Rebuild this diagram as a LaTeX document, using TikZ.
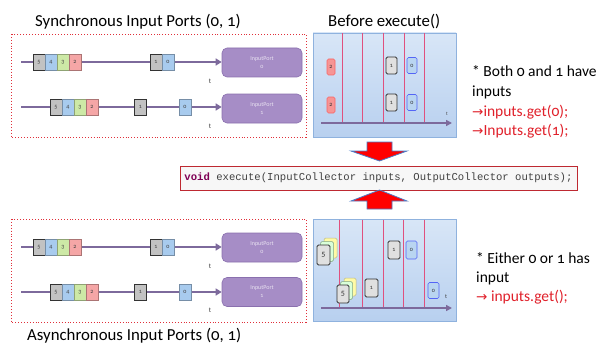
\documentclass[tikz,border=0pt]{standalone}
\usepackage{fontspec}
\setmainfont{Carlito}[Numbers=OldStyle]
\newfontfamily\arrowfont{DejaVu Sans}
\setmonofont{Liberation Mono}
\usetikzlibrary{arrows.meta}
\definecolor{portfill}{HTML}{A68DC6}
\definecolor{portdraw}{HTML}{8A70AE}
\definecolor{linecol}{HTML}{7D6A9C}
\definecolor{dotred}{HTML}{E0303A}
\definecolor{panelA}{HTML}{D8E6F7}
\definecolor{panelB}{HTML}{B8D0EF}
\definecolor{paneldraw}{HTML}{8FB2DE}
\definecolor{vred}{HTML}{E0507E}
\definecolor{cgray}{HTML}{C2C2C2}
\definecolor{cblue}{HTML}{A8CBEE}
\definecolor{cgreen}{HTML}{CDE9A6}
\definecolor{cred}{HTML}{F5A6A6}
\definecolor{txtred}{HTML}{E0202A}
\definecolor{kw}{HTML}{7F0055}
\definecolor{arrred}{HTML}{FF0000}
\definecolor{arrblue}{HTML}{4A7CC8}
\tikzset{
  cell/.style={minimum width=12pt, minimum height=16pt, inner sep=0pt,
    font=\fontsize{6}{6}\selectfont, text=black!75},
  gcell/.style={cell, fill=cgray, draw=black!80, line width=0.6pt},
  bcell/.style={cell, fill=cblue, draw=cblue!70!black, line width=0.4pt},
  grcell/.style={cell, fill=cgreen, draw=cgreen!70!black, line width=0.4pt},
  rcell/.style={cell, fill=cred, draw=cred!70!black, line width=0.4pt},
  port/.style={rounded corners=5pt, fill=portfill, draw=portdraw, line width=0.6pt,
    minimum width=80pt, minimum height=29pt, align=center,
    font=\fontsize{6}{8}\selectfont, text=white!75!portfill},
  tline/.style={draw=linecol, line width=1.3pt, -{Triangle[length=6pt,width=7pt]}},
  tlab/.style={font=\fontsize{7}{7}\selectfont, text=black!75, inner sep=0pt},
  dotbox/.style={draw=dotred, dotted, line width=0.9pt},
  panel/.style={top color=panelA, bottom color=panelB, draw=paneldraw, line width=0.8pt},
  vline/.style={draw=vred, line width=1pt},
  axis/.style={draw=linecol, line width=1.5pt, -{Triangle[length=6pt,width=6pt]}},
  card/.style={rounded corners=1.5pt, inner sep=0pt, font=\fontsize{6}{6}\selectfont, text=black!80},
  dcard/.style={card, fill=black!12, draw=black!80, line width=0.9pt},
  rcard/.style={card, fill=cred!90!red, draw=cred!60!red, line width=0.6pt},
  bcard/.style={card, fill=cblue!80, draw=cblue!50!blue, line width=0.6pt},
  ycard/.style={card, fill=yellow!35, draw=yellow!50!black!60, line width=0.5pt},
  gcard/.style={card, fill=green!15, draw=green!30!black!50, line width=0.5pt},
  ttl/.style={font=\fontsize{16.8}{18}\selectfont, inner sep=0pt, anchor=base west},
  rtxt/.style={font=\fontsize{15.5}{17}\selectfont, inner sep=0pt, anchor=base west},
  bigarrow/.style={fill=arrred, draw=arrblue, line width=0.8pt, line join=miter}
}
\begin{document}
\begin{tikzpicture}[x=1pt,y=-1pt]
\useasboundingbox (0,0) rectangle (613,345);
% ---------- titles ----------
\node[ttl] (tsync) at (35,27) {Synchronous Input Ports (0, 1)};
\node[ttl] (tbefore) at (328,27) {Before execute()};
\node[ttl] (tasync) at (27,340) {Asynchronous Input Ports (0, 1)};
% ---------- top dotted box ----------
\draw[dotbox] (11,34) rectangle (306,137);
\node[port] (p0) at (262,62.5) {InputPort\\0};
\node[port] (p1) at (262,108.5) {InputPort\\1};
\coordinate (s0) at (21,62);
\coordinate (s1) at (21,107);
\draw[tline] (s0) -- (p0.west |- s0);
\draw[tline] (s1) -- (p1.west |- s1);
\node[gcell] (a5) at (39,62) {5};
\node[bcell] (a4) at (51,62) {4};
\node[grcell] (a3) at (63,62) {3};
\node[rcell] (a2) at (75,62) {2};
\node[gcell] (a1) at (156,62) {1};
\node[bcell] (a0) at (168,62) {0};
\node[gcell] (b5) at (56,107) {5};
\node[bcell] (b4) at (68,107) {4};
\node[grcell] (b3) at (80,107) {3};
\node[rcell] (b2) at (92,107) {2};
\node[gcell] (b1) at (140.5,107) {1};
\node[bcell] (b0) at (185,107) {0};
\node[tlab] (ta) at (210,81) {t};
\node[tlab] (tb) at (210,126) {t};
% ---------- bottom dotted box ----------
\draw[dotbox] (11,219) rectangle (306,322);
\node[port] (q0) at (262,247.5) {InputPort\\0};
\node[port] (q1) at (262,292) {InputPort\\1};
\coordinate (u0) at (21,247);
\coordinate (u1) at (21,292);
\draw[tline] (u0) -- (q0.west |- u0);
\draw[tline] (u1) -- (q1.west |- u1);
\node[gcell] (c5) at (39,247) {5};
\node[bcell] (c4) at (51,247) {4};
\node[grcell] (c3) at (63,247) {3};
\node[rcell] (c2) at (75,247) {2};
\node[gcell] (c1) at (156,247) {1};
\node[bcell] (c0) at (168,247) {0};
\node[gcell] (d5) at (56,292) {5};
\node[bcell] (d4) at (68,292) {4};
\node[grcell] (d3) at (80,292) {3};
\node[rcell] (d2) at (92,292) {2};
\node[gcell] (d1) at (140.5,292) {1};
\node[bcell] (d0) at (185,292) {0};
\node[tlab] (tc) at (210,266) {t};
\node[tlab] (td) at (210,310) {t};
% ---------- top panel ----------
\draw[panel] (313,33) rectangle (456,137);
\foreach \x in {342,362,383,404,424} \draw[vline] (\x,33.5) -- (\x,122);
\draw[axis] (321,123) -- (452,123);
\node[tlab,font=\fontsize{5}{5}\selectfont] (tp1) at (447,114) {t};
\node[rcard, minimum width=8pt, minimum height=16pt] (e2a) at (331,67) {2};
\node[rcard, minimum width=8pt, minimum height=16pt] (e2b) at (331,105) {2};
\node[dcard, minimum width=11pt, minimum height=17pt] (e1a) at (391.5,65.5) {1};
\node[dcard, minimum width=11pt, minimum height=17pt] (e1b) at (391.5,102.5) {1};
\node[bcard, minimum width=10pt, minimum height=16pt] (e0a) at (412,65.5) {0};
\node[bcard, minimum width=10pt, minimum height=16pt] (e0b) at (412,102.5) {0};
% ---------- bottom panel ----------
\draw[panel] (313,219) rectangle (456,321);
\foreach \x in {339,362,383,403,424} \draw[vline] (\x,219.5) -- (\x,307);
\draw[axis] (321,308) -- (452,308);
\node[tlab,font=\fontsize{6}{6}\selectfont] (tp2) at (446,297) {t};
\node[ycard, minimum width=13pt, minimum height=20pt] (f5y) at (330.5,248) {};
\node[gcard, minimum width=13pt, minimum height=20pt] (f5g) at (327,251.5) {};
\node[dcard, minimum width=13pt, minimum height=20pt, font=\fontsize{8}{8}\selectfont] (f5) at (323.5,255) {5};
\node[ycard, minimum width=12pt, minimum height=18pt] (g5y) at (350,287) {};
\node[gcard, minimum width=12pt, minimum height=18pt] (g5g) at (346.5,290.5) {};
\node[dcard, minimum width=12pt, minimum height=18pt, font=\fontsize{8}{8}\selectfont] (g5) at (343,294) {5};
\node[dcard, minimum width=13pt, minimum height=18pt] (h1) at (371.5,288) {1};
\node[dcard, minimum width=12pt, minimum height=18pt] (h1b) at (394,250) {1};
\node[bcard, minimum width=11pt, minimum height=18pt] (h0) at (411.5,250) {0};
\node[bcard, minimum width=11pt, minimum height=16pt] (h0b) at (433.5,290.5) {0};
% ---------- right texts ----------
\node[rtxt] (r1) at (472,77) {* Both 0 and 1 have};
\node[rtxt] (r2) at (472,96.5) {inputs};
\node[rtxt,text=txtred] (r3) at (472,116) {{\arrowfont\fontsize{13.5}{15}\selectfont →}inputs.get(0);};
\node[rtxt,text=txtred] (r4) at (472,135) {{\arrowfont\fontsize{13.5}{15}\selectfont →}Inputs.get(1);};
\node[rtxt] (r5) at (476,263) {* Either 0 or 1 has};
\node[rtxt] (r6) at (476,282) {input};
\node[rtxt,text=txtred] (r7) at (476,301) {{\arrowfont\fontsize{13.5}{15}\selectfont →} inputs.get();};
% ---------- code box ----------
\node[draw=dotred!85!black, line width=0.8pt, fill=black!3, minimum width=397pt, minimum height=24pt,
      inner sep=0pt, font=\ttfamily\fontsize{10.6}{12}\selectfont, text=black!75]
  (code) at (378.5,178) {\textcolor{kw}{\textbf{void}} execute(InputCollector inputs, OutputCollector outputs);};
% ---------- big arrows ----------
\draw[bigarrow] (367,142) -- (392,142) -- (392,151) -- (407,151) -- (379.5,161) -- (351,151) -- (367,151) -- cycle;
\draw[bigarrow] (367,209) -- (392,209) -- (392,201) -- (407,201) -- (379.5,190) -- (351,201) -- (367,201) -- cycle;
\end{tikzpicture}
\end{document}
